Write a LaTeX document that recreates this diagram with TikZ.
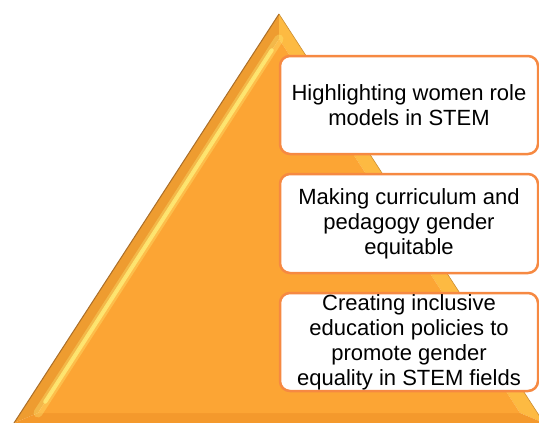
\documentclass[tikz,border=0pt]{standalone}
\usepackage{fontspec}
\setmainfont{Liberation Sans}
\usetikzlibrary{calc}
\definecolor{faceC}{RGB}{252,165,52}
\definecolor{leftC}{RGB}{238,156,48}
\definecolor{rightC}{RGB}{253,186,66}
\definecolor{bottomC}{RGB}{244,153,44}
\definecolor{edgeC}{RGB}{170,110,40}
\definecolor{hiC}{RGB}{255,238,120}
\definecolor{boxC}{RGB}{246,137,66}
\begin{document}
\begin{tikzpicture}[x=1pt,y=-1pt,
  stepbox/.style={draw=boxC, fill=white, line width=2.5pt, rounded corners=10pt,
    minimum width=258pt, align=center, inner sep=0pt,
    font=\fontsize{22}{25}\selectfont}]
\useasboundingbox (0,0) rectangle (539,423);
% pyramid corners
\coordinate (A) at (279,14);
\coordinate (B) at (14,423);
\coordinate (C) at (544,423);
\coordinate (a) at (279,39);
\coordinate (b) at (38,413);
\coordinate (c) at (520,413);
% bevels
\fill[leftC] (A) -- (B) -- (b) -- (a) -- cycle;
\fill[rightC] (A) -- (a) -- (c) -- (C) -- cycle;
\fill[bottomC] (B) -- (C) -- (c) -- (b) -- cycle;
\fill[faceC] (a) -- (b) -- (c) -- cycle;
% highlight along inner left edge
\begin{scope}
  \clip (A) -- (B) -- (C) -- cycle;
  \draw[hiC, line width=9pt, opacity=0.35, line cap=round] (a) -- (b);
  \draw[hiC, line width=4pt, opacity=0.8, line cap=round] ($(a)!0.03!(b)$) -- ($(a)!0.97!(b)$);
\end{scope}
\draw[edgeC, line width=1pt] (B) -- (A);
\draw[edgeC!60!rightC, line width=0.6pt] (A) -- (C);
% boxes
\node[stepbox, minimum height=98pt] (t1) at (409,105) {Highlighting women role\\models in STEM};
\node[stepbox, minimum height=99pt] (t2) at (409,223.5) {Making curriculum and\\pedagogy gender\\equitable};
\node[stepbox, minimum height=98pt] (t3) at (409,342) {Creating inclusive\\education policies to\\promote gender\\equality in STEM fields};
\end{tikzpicture}
\end{document}
